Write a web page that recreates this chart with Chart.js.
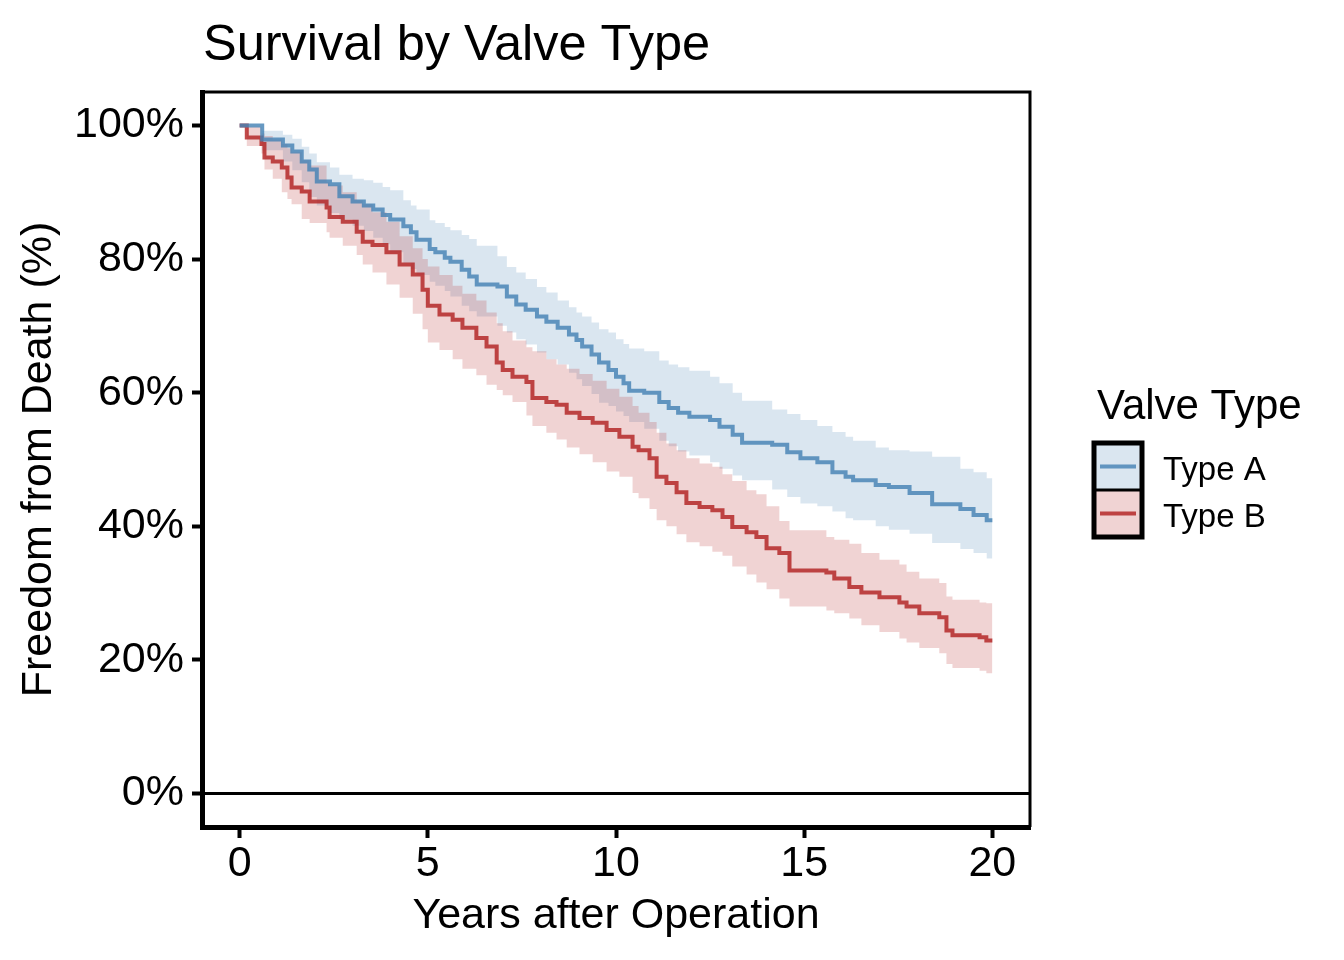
<!DOCTYPE html>
<html>
<head>
<meta charset="utf-8">
<script src="https://cdn.jsdelivr.net/npm/chart.js@4.4.0/dist/chart.umd.min.js"></script>
<style>
  html, body { margin: 0; padding: 0; background: #fff; }
  #wrap { width: 1344px; height: 960px; }
</style>
</head>
<body>
<div id="wrap"><canvas id="km" width="1344" height="960"></canvas></div>
<script>
// Kaplan-Meier estimates (years, % surviving)
const tA = [0, 0.6, 1.15, 1.4, 1.65, 1.85, 2.05, 2.4, 2.65, 3.0, 3.3, 3.55, 3.8, 4.0, 4.35, 4.55, 4.7, 5.05, 5.2, 5.45,
  5.6, 5.9, 6.1, 6.3, 6.85, 7.1, 7.35, 7.6, 7.9, 8.15, 8.45, 8.75, 8.95, 9.1, 9.35, 9.55, 9.8, 10.0, 10.2, 10.35,
  10.75, 11.15, 11.4, 11.65, 11.95, 12.5, 12.75, 13.1, 13.35, 14.15, 14.55, 14.9, 15.35, 15.75, 16.1, 16.3, 16.9, 17.25, 17.8, 18.4,
  19.15, 19.5, 19.85, 20];
const survA = [100, 97.9, 97.0, 96.1, 94.6, 93.4, 91.6, 91.2, 89.4, 88.6, 88.0, 87.4, 86.6, 85.9, 84.9, 84.0, 82.9, 81.5, 81.0, 80.2,
  79.6, 78.4, 77.4, 76.2, 75.9, 74.4, 73.2, 72.4, 71.4, 70.6, 69.7, 68.7, 67.9, 66.9, 65.7, 64.5, 63.4, 62.4, 61.4, 60.3,
  60.0, 58.6, 57.7, 57.0, 56.4, 55.9, 54.9, 53.7, 52.5, 52.2, 51.1, 50.2, 49.6, 48.1, 47.4, 46.9, 46.2, 45.9, 45.0, 43.3,
  42.6, 41.7, 40.9, 40.9];
const upA = [100, 99.2, 98.6, 98.0, 96.8, 95.8, 94.5, 93.7, 92.6, 92.0, 91.8, 91.4, 90.8, 90.3, 88.8, 88.0, 87.4, 85.8, 85.4, 84.8,
  84.3, 83.6, 83.0, 82.0, 80.4, 78.8, 78.0, 77.0, 75.8, 75.0, 73.8, 72.8, 72.0, 71.4, 70.5, 69.5, 69.0, 68.0, 67.3, 66.6,
  66.2, 64.8, 64.2, 63.8, 63.3, 62.4, 61.4, 60.0, 58.8, 57.5, 56.8, 55.9, 55.0, 54.1, 53.4, 52.8, 51.8, 51.4, 51.2, 50.4,
  48.6, 48.1, 47.2, 47.1];
const lowA = [100, 96.3, 94.6, 93.3, 91.5, 89.3, 88.0, 86.9, 85.9, 85.0, 84.2, 83.2, 82.2, 81.0, 79.4, 78.5, 77.6, 76.6, 76.0, 75.2,
  74.4, 73.0, 72.2, 71.4, 70.0, 69.0, 68.0, 67.2, 66.0, 65.0, 64.2, 63.0, 62.0, 61.0, 59.8, 58.5, 58.0, 57.2, 56.5, 55.6,
  54.6, 52.8, 52.0, 51.2, 50.6, 49.6, 48.6, 47.6, 46.9, 45.5, 44.4, 43.4, 43.0, 42.2, 41.2, 40.9, 40.0, 39.5, 38.9, 37.5,
  36.6, 36.0, 35.2, 34.9];

const tB = [0, 0.19, 0.58, 0.66, 0.88, 1.12, 1.27, 1.38, 1.65, 1.86, 2.31, 2.39, 2.74, 3.11, 3.27, 3.53, 3.9, 4.25, 4.6, 4.86,
  5.0, 5.31, 5.66, 5.92, 6.29, 6.56, 6.83, 6.99, 7.25, 7.62, 7.78, 8.15, 8.42, 8.69, 9.03, 9.38, 9.75, 10.09, 10.44, 10.6,
  10.89, 11.08, 11.34, 11.61, 11.87, 12.22, 12.56, 12.83, 13.09, 13.47, 13.73, 14.0, 14.34, 14.61, 15.59, 15.8, 16.2, 16.52, 17.0, 17.53,
  17.72, 18.06, 18.59, 18.78, 18.94, 19.66, 19.84, 20];
const survB = [100, 98.2, 97.2, 95.2, 94.6, 93.7, 92.2, 90.7, 90.1, 88.6, 87.7, 86.3, 85.6, 84.1, 82.6, 82.1, 81.0, 79.2, 77.7, 75.4,
  73.0, 71.7, 70.9, 69.7, 68.2, 66.9, 64.5, 63.4, 62.4, 61.6, 59.2, 58.6, 58.2, 57.0, 56.2, 55.5, 54.4, 53.4, 51.9, 51.4,
  50.2, 47.4, 46.5, 45.1, 43.5, 42.9, 42.4, 41.4, 39.9, 39.1, 38.4, 36.7, 36.0, 33.4, 33.1, 32.2, 30.9, 30.1, 29.4, 28.6,
  28.0, 27.0, 26.4, 24.4, 23.7, 23.4, 22.9, 22.9];
const upB = [100, 99.8, 98.8, 98.4, 97.9, 97.2, 96.6, 96.0, 94.8, 94.0, 91.5, 91.0, 90.0, 88.8, 88.2, 87.0, 85.6, 83.4, 81.6, 80.0,
  78.9, 77.6, 76.0, 74.8, 73.8, 72.0, 70.4, 69.2, 67.8, 66.8, 66.2, 65.0, 64.2, 63.6, 62.8, 61.8, 60.6, 59.4, 58.0, 57.0,
  55.6, 54.0, 52.4, 51.4, 50.2, 49.4, 48.9, 47.8, 46.8, 45.4, 44.8, 43.0, 40.8, 39.4, 38.4, 38.0, 37.4, 36.0, 35.0, 34.3,
  33.2, 32.2, 31.5, 29.5, 29.0, 28.6, 28.5, 28.5];
const lowB = [100, 96.9, 95.8, 93.4, 92.0, 90.0, 89.0, 88.2, 86.0, 85.4, 84.0, 83.2, 82.0, 80.6, 79.2, 78.0, 76.2, 74.2, 71.8, 69.5,
  67.5, 66.4, 65.0, 63.6, 62.6, 61.2, 60.4, 59.6, 58.6, 56.6, 55.0, 54.0, 53.0, 51.8, 50.8, 49.6, 48.2, 47.4, 45.0, 44.2,
  42.6, 40.9, 40.0, 38.8, 37.6, 37.0, 36.2, 35.6, 34.0, 32.8, 31.6, 30.6, 29.2, 28.0, 27.4, 27.0, 26.2, 25.2, 24.2, 23.2,
  22.6, 21.8, 21.0, 19.4, 18.8, 18.4, 18.0, 18.0];

const xTicks = [0, 5, 10, 15, 20];
const yTicks = [0, 20, 40, 60, 80, 100];
const groups = ['Type A', 'Type B'];

const FONT = '"Liberation Sans", Arial, Helvetica, sans-serif';
const lineA = 'rgba(70,130,180,0.82)';
const lineB = 'rgba(178,34,34,0.82)';
const bandA = 'rgba(70,130,180,0.2)';
const bandB = 'rgba(178,34,34,0.2)';

const pts = (xs, ys) => xs.map((x, i) => ({ x: x, y: ys[i] }));

const stepLine = (label, xs, ys, color) => ({
  label, data: pts(xs, ys), borderColor: color, borderWidth: 4,
  stepped: true, pointRadius: 0, fill: false
});
const bandEdge = (label, xs, ys, fillColor, fillTo) => ({
  label, data: pts(xs, ys), borderColor: 'rgba(0,0,0,0)', borderWidth: 0,
  backgroundColor: fillColor, stepped: true, pointRadius: 0, fill: fillTo
});

// top and right sides of the panel box
const panelBox = {
  id: 'panelBox',
  afterDatasetsDraw(chart) {
    const { ctx, chartArea: a } = chart;
    ctx.save();
    ctx.strokeStyle = '#000';
    ctx.lineWidth = 3;
    ctx.beginPath();
    ctx.moveTo(a.left, a.top);
    ctx.lineTo(a.right, a.top);
    ctx.lineTo(a.right, a.bottom);
    ctx.stroke();
    ctx.restore();
  }
};

// title and legend, ggplot style
const decorations = {
  id: 'decorations',
  afterDraw(chart) {
    const ctx = chart.ctx;
    ctx.save();
    ctx.fillStyle = '#000';
    ctx.textAlign = 'left';
    ctx.textBaseline = 'alphabetic';
    ctx.font = '50.5px ' + FONT;
    ctx.fillText('Survival by Valve Type', 203, 60);

    ctx.font = '42px ' + FONT;
    ctx.fillText('Valve Type', 1097, 419);

    const keyX = 1094, keyW = 48, keyH = 47, keyY = [443, 490];
    const bands = [bandA, bandB], lines = [lineA, lineB];
    keyY.forEach((y, i) => {
      ctx.fillStyle = '#fff';
      ctx.fillRect(keyX, y, keyW, keyH);
      ctx.fillStyle = bands[i];
      ctx.fillRect(keyX, y, keyW, keyH);
      ctx.strokeStyle = lines[i];
      ctx.lineWidth = 4;
      ctx.beginPath();
      ctx.moveTo(keyX + 6, y + keyH / 2);
      ctx.lineTo(keyX + keyW - 6, y + keyH / 2);
      ctx.stroke();
    });
    ctx.strokeStyle = '#000';
    ctx.lineWidth = 5;
    ctx.strokeRect(keyX, keyY[0], keyW, keyH * 2);
    ctx.lineWidth = 3;
    ctx.beginPath();
    ctx.moveTo(keyX, keyY[1]);
    ctx.lineTo(keyX + keyW, keyY[1]);
    ctx.stroke();

    ctx.fillStyle = '#000';
    ctx.font = '33px ' + FONT;
    ctx.fillText(groups[0], 1163, 480);
    ctx.fillText(groups[1], 1163, 527);
    ctx.restore();
  }
};

new Chart(document.getElementById('km'), {
  type: 'line',
  data: {
    datasets: [
      { label: 'zero', data: [{ x: -1, y: 0 }, { x: 21, y: 0 }], borderColor: '#000', borderWidth: 3, pointRadius: 0, fill: false },
      stepLine(groups[0], tA, survA, lineA),
      stepLine(groups[1], tB, survB, lineB),
      bandEdge('B upper', tB, upB, bandB, '+1'),
      bandEdge('B lower', tB, lowB, bandB, false),
      bandEdge('A upper', tA, upA, bandA, '+1'),
      bandEdge('A lower', tA, lowA, bandA, false)
    ]
  },
  options: {
    responsive: false,
    devicePixelRatio: 1,
    animation: false,
    layout: { padding: { top: 92, right: 314, bottom: 18, left: 0 } },
    plugins: {
      legend: { display: false },
      tooltip: { enabled: false },
      title: { display: false }
    },
    scales: {
      x: {
        type: 'linear',
        min: -1,
        max: 21,
        afterBuildTicks: (s) => { s.ticks = xTicks.map(v => ({ value: v })); },
        afterFit: (s) => { s.height = 115; },
        grid: { drawOnChartArea: false, drawTicks: true, tickLength: 11, tickWidth: 4, tickColor: '#000' },
        border: { display: true, color: '#000', width: 5 },
        ticks: { autoSkip: false, maxRotation: 0, padding: 0, color: '#000', font: { family: FONT, size: 43 } },
        title: { display: true, text: 'Years after Operation', color: '#000', font: { family: FONT, size: 43 }, padding: { top: 0, bottom: 0 } }
      },
      y: {
        type: 'linear',
        min: -5,
        max: 105,
        afterBuildTicks: (s) => { s.ticks = yTicks.map(v => ({ value: v })); },
        afterFit: (s) => { s.width = 202; },
        grid: { drawOnChartArea: false, drawTicks: true, tickLength: 10, tickWidth: 4, tickColor: '#000' },
        border: { display: true, color: '#000', width: 5 },
        ticks: { autoSkip: false, padding: 8, color: '#000', font: { family: FONT, size: 43 }, callback: (v) => v + '%' },
        title: { display: true, text: 'Freedom from Death (%)', color: '#000', font: { family: FONT, size: 43 }, padding: { top: 13, bottom: 0 } }
      }
    }
  },
  plugins: [panelBox, decorations]
});
</script>
</body>
</html>
